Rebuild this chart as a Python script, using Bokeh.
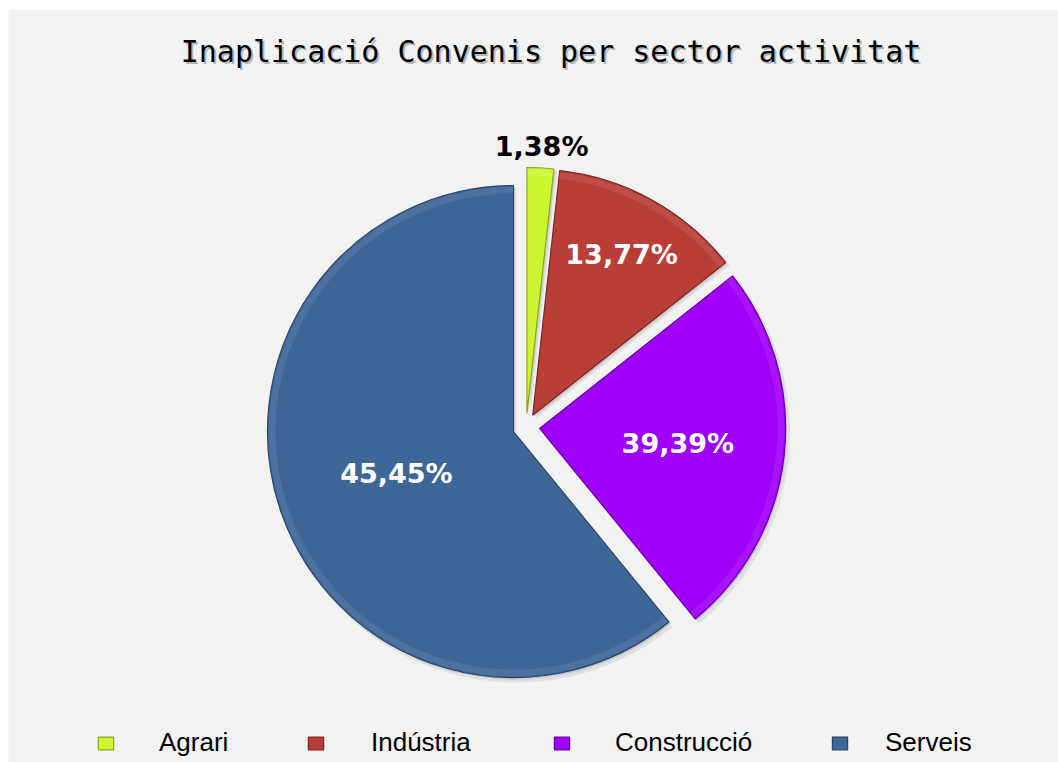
import numpy as np
from bokeh.plotting import figure
from bokeh.models import Range1d, ColumnDataSource, Legend, LegendItem
from bokeh.embed import file_html
from bokeh.resources import INLINE
from bokeh.core.properties import value

# ---------------- data ----------------
title_text = "Inaplicació Convenis per sector activitat"
sectors = ["Agrari", "Indústria", "Construcció", "Serveis"]
slice_share = [1.75, 12.6, 24.75, 60.9]          # slice sizes as drawn (%)
label_text = ["1,38%", "13,77%", "39,39%", "45,45%"]  # data labels as printed

# ---------------- style ----------------
colors = ["#ccf532", "#b93e38", "#a000fa", "#3e6797"]
edge_colors = ["#8da61f", "#7c2622", "#6c00aa", "#2a476c"]
label_colors = ["#000000", "#ffffff", "#ffffff", "#ffffff"]
label_r = [1.14, 0.80, 0.62, 0.56]

W, H = 1058, 762             # whole page
LEFT, TOP = 8, 9             # white strip left/top of the chart area
PX = 246.0                   # pixels per unit radius
CXP, CYP = 525.7, 426.5      # pie centre in page pixels
explode = 13.5 / PX

x0 = (LEFT - CXP) / PX
x1 = (W - CXP) / PX
y1 = (CYP - TOP) / PX
y0 = -(H - CYP) / PX

total = float(sum(slice_share))
cum = np.cumsum([0.0] + slice_share) / total
hi = np.pi / 2 - 2 * np.pi * cum[:-1]
lo = np.pi / 2 - 2 * np.pi * cum[1:]
mid = (hi + lo) / 2
cx = explode * np.cos(mid)
cy = explode * np.sin(mid)

src = ColumnDataSource(dict(
    sector=sectors, x=cx, y=cy, start=lo, end=hi, color=colors, edge=edge_colors,
    sx=cx + 3.0 / PX, sy=cy - 3.5 / PX, sx2=cx + 1.5 / PX, sy2=cy - 2.0 / PX,
))
lab = ColumnDataSource(dict(
    x=np.array(label_r) * np.cos(mid),
    y=np.array(label_r) * np.sin(mid),
    text=label_text, color=label_colors,
))

p = figure(width=W, height=H, output_backend="svg", toolbar_location=None,
           x_range=Range1d(x0, x1), y_range=Range1d(y0, y1),
           min_border=0, min_border_left=LEFT, min_border_right=0,
           min_border_top=TOP, min_border_bottom=0)
p.axis.visible = False
p.grid.visible = False
p.outline_line_color = None
p.background_fill_color = "#f2f2f2"
p.border_fill_color = "#ffffff"

# soft drop shadow
p.wedge(x="sx", y="sy", radius=1.0 + 1.5 / PX, start_angle="start", end_angle="end",
        direction="anticlock", source=src, fill_color="#000000", fill_alpha=0.07,
        line_color=None)
p.wedge(x="sx2", y="sy2", radius=1.0, start_angle="start", end_angle="end",
        direction="anticlock", source=src, fill_color="#000000", fill_alpha=0.10,
        line_color=None)

# main slices
main = p.wedge(x="x", y="y", radius=1.0, start_angle="start", end_angle="end",
               direction="anticlock", source=src, fill_color="color",
               line_color="edge", line_width=1.2)

# bevel highlight along the outer rim
p.annular_wedge(x="x", y="y", inner_radius=1.0 - 8.0 / PX, outer_radius=1.0 - 1.5 / PX,
                start_angle="start", end_angle="end", direction="anticlock", source=src,
                fill_color="#ffffff", fill_alpha=0.08, line_color=None)

# data labels
p.text(x="x", y="y", text="text", source=lab, text_color="color",
       text_font=value("DejaVu Sans"), text_font_style="bold",
       text_font_size="27px", text_align="center", text_baseline="middle")

# title with shadow
tx = (550.5 - CXP) / PX
ty = (CYP - 50.5) / PX
p.text(x=[tx + 2.0 / PX], y=[ty - 2.5 / PX], text=[title_text], text_color="#000000",
       text_alpha=0.25, text_font=value("DejaVu Sans Mono"), text_font_size="30px",
       text_align="center", text_baseline="middle")
p.text(x=[tx], y=[ty], text=[title_text], text_color="#000000",
       text_font=value("DejaVu Sans Mono"), text_font_size="30px",
       text_align="center", text_baseline="middle")

# legend: one entry per sector, laid out as in the reference
GW, GH = 19, 16
marker_cx = [106, 316, 562, 839]   # page px, marker centres
text_x = [160, 371, 616, 884]      # page px, label starts
for i, s in enumerate(sectors):
    lg = Legend(items=[LegendItem(label=s, renderers=[main], index=i)],
                orientation="horizontal",
                location=(int(round(marker_cx[i] - GW / 2 - LEFT)), 4),
                glyph_width=GW, glyph_height=GH,
                label_standoff=int(round(text_x[i] - (marker_cx[i] + GW / 2))),
                padding=0, margin=0, border_line_alpha=0, background_fill_alpha=0,
                label_text_font="Liberation Sans", label_text_font_size="26px",
                label_text_color="#000000")
    p.add_layout(lg)

open("out.html", "w").write(file_html(p, INLINE))
